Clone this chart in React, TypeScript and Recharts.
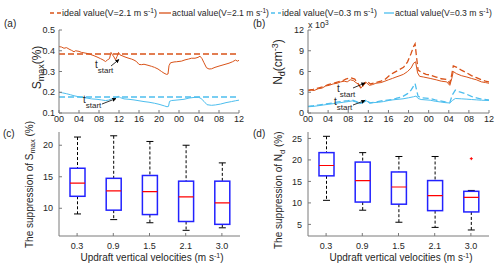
import React from 'react';
import { LineChart, Line, XAxis, YAxis, ComposedChart, Bar } from 'recharts';

const FONT = '"Liberation Sans", Arial, Helvetica, sans-serif';
const RED = '#D95319';
const BLUE = '#4DBEEE';
const AXIS = '#7a7a7a';
const TXT = '#262626';

// ---- time axis (hours since 00:00 of day 1, 36 h shown) ----
const hourTicks = [0, 4, 8, 12, 16, 20, 24, 28, 32, 36];
const hourLabels = ['00', '04', '08', '12', '16', '20', '00', '04', '08', '12'];

// ---- panel (a): S_max (%) ----
const aTicks = [0.1, 0.2, 0.3, 0.4, 0.5];
const aIdealRed = 0.384;
const aIdealBlue = 0.177;
const aRedActual: [number, number][] = [
  [0, 0.42], [0.5, 0.418], [1, 0.412], [1.5, 0.415], [2, 0.408], [2.5, 0.402], [3, 0.395], [3.3, 0.4],
  [4, 0.397], [4.5, 0.392], [5, 0.39], [5.6, 0.387], [6.2, 0.383], [7, 0.376], [7.6, 0.37], [8.3, 0.362],
  [8.8, 0.356], [9.3, 0.348], [9.7, 0.356], [10.1, 0.362], [10.4, 0.392], [10.7, 0.38], [11, 0.37],
  [11.3, 0.356], [11.6, 0.372], [11.9, 0.392], [12.2, 0.38], [12.6, 0.376], [13.2, 0.37], [13.8, 0.365],
  [14.5, 0.36], [15, 0.355], [15.5, 0.348], [16, 0.334], [16.5, 0.333], [17, 0.335], [17.8, 0.33],
  [18.5, 0.325], [19.1, 0.32], [19.8, 0.312], [20.5, 0.3], [21, 0.292], [21.5, 0.286], [21.8, 0.288],
  [22.0, 0.328], [22.3, 0.342], [23, 0.346], [23.5, 0.347], [24.5, 0.35], [25.2, 0.356], [25.9, 0.36],
  [26.5, 0.364], [27.2, 0.364], [27.8, 0.368], [28.2, 0.374], [28.6, 0.362], [29.0, 0.342], [29.5, 0.318],
  [30.0, 0.312], [30.5, 0.313], [31.2, 0.32], [32, 0.326], [33, 0.333], [34, 0.34], [34.7, 0.347],
  [35.3, 0.355], [35.7, 0.35], [36, 0.354],
];
const aBlueActual: [number, number][] = [
  [0, 0.2], [0.7, 0.197], [1.5, 0.193], [2.3, 0.188], [3, 0.183], [3.6, 0.18], [4.4, 0.176], [5, 0.174],
  [5.8, 0.171], [6.5, 0.168], [7.6, 0.166], [8.5, 0.163], [9.3, 0.16], [9.9, 0.162], [10.5, 0.168],
  [11, 0.172], [11.5, 0.175], [11.9, 0.18], [12.3, 0.174], [13, 0.168], [14, 0.166], [15, 0.163],
  [16, 0.159], [17, 0.155], [18, 0.152], [19.1, 0.147], [20, 0.142], [21.1, 0.134], [21.6, 0.13],
  [21.9, 0.132], [22.1, 0.156], [22.5, 0.16], [23.8, 0.163], [25, 0.166], [26, 0.172], [27, 0.175],
  [27.9, 0.176], [28.4, 0.17], [29, 0.156], [29.6, 0.14], [30.5, 0.137], [31.3, 0.139], [32.3, 0.143],
  [33.4, 0.15], [34.5, 0.155], [35.3, 0.159], [36, 0.162],
];

// ---- panel (b): N_d (cm^-3) ----
const bTicks = [0, 3000, 6000, 9000, 12000];
const bRedActual: [number, number][] = [
  [0, 3200], [0.6, 3300], [1.2, 3250], [2, 3500], [2.8, 3600], [3.5, 3900], [4.2, 4000], [5, 4200],
  [5.8, 4300], [6.5, 4500], [7.2, 4600], [7.8, 4500], [8.4, 4800], [9, 4700], [9.5, 4400], [10, 4200],
  [10.5, 3600], [11, 4000], [11.6, 4400], [12.2, 4000], [12.8, 4100], [13.5, 4300], [14.5, 4400],
  [15.3, 4600], [16, 4800], [16.8, 5000], [17.5, 5200], [18.3, 5400], [19, 5600], [19.8, 6000],
  [20.5, 6500], [21.0, 7200], [21.4, 7400], [21.8, 5800], [22.2, 5300], [23, 5200], [24.3, 5000],
  [25.5, 4800], [26.5, 4600], [27.6, 4500], [28.2, 4000], [28.6, 5000], [28.9, 6000], [29.5, 5700],
  [30.5, 5400], [31.6, 5200], [32.5, 5000], [33.5, 4800], [34.5, 4500], [35.3, 4400], [36, 4300],
];
const bRedIdeal: [number, number][] = [
  [0, 3300], [1, 3400], [2, 3600], [3, 3800], [4, 4100], [5, 4300], [6, 4500], [7, 4700], [7.5, 4900],
  [8.5, 5100], [9.3, 4900], [10, 4200], [10.6, 3500], [11.2, 4300], [11.7, 4600], [12.4, 4200],
  [13.5, 4400], [14.5, 4600], [15.3, 4850], [16.3, 5500], [17, 5800], [18, 6200], [19, 6600],
  [19.8, 7400], [20.5, 8600], [21.0, 9600], [21.3, 10000], [21.6, 8000], [21.9, 6200], [22.5, 5900],
  [23.5, 5600], [24.3, 5500], [25.5, 5200], [26.5, 4950], [27.6, 4850], [28.2, 4300], [28.6, 5600],
  [28.9, 6800], [29.6, 6600], [30.5, 6200], [31.6, 5800], [32.5, 5400], [33.5, 5100], [34.5, 4800],
  [35.3, 4600], [36, 4500],
];
const bBlueActual: [number, number][] = [
  [0, 900], [1, 950], [2, 1050], [3, 1150], [4, 1250], [5, 1350], [6, 1450], [7, 1550], [8, 1650],
  [8.8, 1750], [9.5, 1600], [10.3, 1350], [11, 1500], [11.6, 1750], [12.3, 1450], [13, 1500],
  [14, 1550], [15, 1650], [16.3, 1850], [17.5, 1950], [18.9, 2050], [20, 2200], [21, 2350],
  [21.5, 2450], [21.9, 2100], [22.5, 1950], [24.3, 1850], [25.3, 1700], [26.3, 1600], [27.3, 1500],
  [28.2, 1450], [28.7, 1800], [29.3, 2100], [30.5, 2050], [31.6, 2000], [32.5, 1950], [33.5, 1900],
  [34.5, 1850], [36, 1800],
];
const bBlueIdeal: [number, number][] = [
  [0, 970], [1, 1050], [2, 1150], [3, 1250], [4, 1360], [5, 1450], [6, 1600], [7, 1700], [8, 1800],
  [8.7, 1900], [9.5, 1700], [10.3, 1400], [11, 1600], [11.6, 1900], [12.3, 1450], [13.5, 1600],
  [15, 1800], [16.6, 1950], [17.5, 2100], [18.9, 2400], [19.8, 2800], [20.5, 3300], [21.0, 3900],
  [21.3, 4250], [21.6, 3300], [21.9, 2400], [22.5, 2200], [24.3, 2100], [25.3, 1900], [26.3, 1750],
  [27.3, 1600], [28.2, 1500], [28.7, 2600], [29.3, 3300], [30, 3100], [31.6, 2700], [32.5, 2400],
  [33.5, 2200], [34.5, 2000], [36, 1900],
];

// ---- panels (c) & (d): box plots ----
const velocities = ['0.3', '0.9', '1.5', '2.1', '3.0'];
const cTicks = [10, 15, 20];
const cWhiskLow = [9.1, 8.2, 7.7, 6.5, 6.9];
const cQ1 = [11.9, 9.7, 9.0, 7.9, 7.45];
const cMed = [14.0, 12.75, 12.65, 11.8, 10.85];
const cQ3 = [16.35, 14.75, 15.2, 14.3, 14.3];
const cWhiskHigh = [21.3, 21.5, 20.6, 20.0, 17.2];
const dTicks = [5, 10, 15, 20, 25];
const dWhiskLow = [10.6, 8.3, 5.5, 4.3, 3.7];
const dQ1 = [16.3, 10.2, 9.7, 8.2, 7.9];
const dMed = [18.7, 15.2, 13.7, 11.7, 11.3];
const dQ3 = [21.7, 19.5, 17.2, 15.2, 12.7];
const dWhiskHigh = [25.5, 21.7, 20.8, 20.8, 12.9];
const dOutlier: (number | null)[] = [null, null, null, null, 20.3];

// ---------------------------------------------------------------
const W = 500;
const H = 268;
const YW = 40;
const XH = 20;
const margins = (x0: number, x1: number, y0: number, y1: number) => ({
  left: x0 - YW,
  right: W - x1,
  top: y0,
  bottom: H - y1 - XH,
});
const abs: React.CSSProperties = { position: 'absolute', left: 0, top: 0 };
const tickStyle = { fontSize: 9, fill: TXT, fontFamily: FONT };
const toPts = (arr: [number, number][]) => arr.map(([t, v]) => ({ t, v }));
const flat = (v: number) => [{ t: 0, v }, { t: 36, v }];
const fmtHour = (v: number) => hourLabels[hourTicks.indexOf(v)] ?? '';
const blank = () => '';

const buildBox = (lo: number[], q1: number[], med: number[], q3: number[], hi: number[], out?: (number | null)[]) =>
  velocities.map((v, i) => ({
    v,
    range: [lo[i], hi[i]],
    lo: lo[i],
    q1: q1[i],
    med: med[i],
    q3: q3[i],
    hi: hi[i],
    out: out ? out[i] : null,
  }));

const cData = buildBox(cWhiskLow, cQ1, cMed, cQ3, cWhiskHigh);
const dData = buildBox(dWhiskLow, dQ1, dMed, dQ3, dWhiskHigh, dOutlier);

const BoxShape = (props: any) => {
  const { x, y, width, height, payload } = props;
  if (!payload) return null;
  const top = Math.min(y, y + height);
  const h = Math.abs(height);
  const { lo, hi } = payload;
  const py = (val: number) => top + ((hi - val) / (hi - lo)) * h;
  const cx = x + width / 2;
  const cap = 3.5;
  return (
    <g>
      <line x1={cx} x2={cx} y1={py(hi)} y2={py(payload.q3)} stroke="#000" strokeWidth={1} strokeDasharray="3 2" />
      <line x1={cx} x2={cx} y1={py(payload.q1)} y2={py(lo)} stroke="#000" strokeWidth={1} strokeDasharray="3 2" />
      <line x1={cx - cap} x2={cx + cap} y1={py(hi)} y2={py(hi)} stroke="#000" strokeWidth={1} />
      <line x1={cx - cap} x2={cx + cap} y1={py(lo)} y2={py(lo)} stroke="#000" strokeWidth={1} />
      <rect x={x} y={py(payload.q3)} width={width} height={py(payload.q1) - py(payload.q3)} fill="none" stroke="#2222ff" strokeWidth={1.5} />
      <line x1={x} x2={x + width} y1={py(payload.med)} y2={py(payload.med)} stroke="#ff0000" strokeWidth={1.2} />
      {payload.out != null && (
        <g stroke="#ff0000" strokeWidth={1}>
          <line x1={cx - 1.5} x2={cx + 1.5} y1={py(payload.out)} y2={py(payload.out)} />
          <line x1={cx} x2={cx} y1={py(payload.out) - 1.5} y2={py(payload.out) + 1.5} />
        </g>
      )}
    </g>
  );
};

const timeAxes = (domainY: number[], ticksY: number[], fmtY: (v: number) => string) => [
  <XAxis key="xb" dataKey="t" type="number" domain={[0, 36]} ticks={hourTicks} tickFormatter={fmtHour}
    tickSize={-3} tickMargin={6} stroke={AXIS} tick={tickStyle} height={XH} interval={0} allowDataOverflow />,
  <XAxis key="xt" xAxisId="top" orientation="top" dataKey="t" type="number" domain={[0, 36]} ticks={hourTicks}
    tickFormatter={blank} tickSize={-3} stroke={AXIS} height={0} interval={0} />,
  <YAxis key="yl" type="number" domain={domainY} ticks={ticksY} tickFormatter={fmtY} tickSize={-3} tickMargin={7}
    width={YW} stroke={AXIS} tick={tickStyle} interval={0} allowDataOverflow />,
  <YAxis key="yr" yAxisId="right" orientation="right" type="number" domain={domainY} ticks={ticksY}
    tickFormatter={blank} tickSize={-3} width={0} stroke={AXIS} interval={0} allowDataOverflow />,
];

const boxAxes = (domainY: number[], ticksY: number[]) => [
  <XAxis key="xb" dataKey="v" type="category" tickSize={-3} tickMargin={10} stroke={AXIS} tick={tickStyle}
    height={XH} interval={0} />,
  <XAxis key="xt" xAxisId="top" orientation="top" dataKey="v" type="category" tickLine={false} tickFormatter={blank}
    stroke={AXIS} height={0} />,
  <YAxis key="yl" type="number" domain={domainY} ticks={ticksY} tickSize={-3} tickMargin={9} width={YW}
    stroke={AXIS} tick={tickStyle} interval={0} allowDataOverflow />,
  <YAxis key="yr" yAxisId="right" orientation="right" type="number" domain={domainY} ticks={ticksY}
    tickFormatter={blank} tickSize={-3} width={0} stroke={AXIS} interval={0} allowDataOverflow />,
];

// legend entry: sample line + "label(V=… m s^-1)"
const LegendEntry = ({ x0, x1, tx, len, color, dashed, label }: any) => (
  <g>
    <line x1={x0} x2={x1} y1={13} y2={13} stroke={color} strokeWidth={1.3} strokeDasharray={dashed ? '4 3' : undefined} />
    <text x={tx} y={16.2} textLength={len} lengthAdjust="spacingAndGlyphs">
      {label}
      <tspan dy={-3.5} fontSize={6.5}>-1</tspan>
      <tspan dy={3.5}>)</tspan>
    </text>
  </g>
);

export default function App() {
  const textProps = { fontFamily: FONT, fill: TXT };
  return (
    <div style={{ position: 'fixed', left: 0, top: 0, width: W, height: H, background: '#fff', overflow: 'hidden' }}>
      {/* (a) */}
      <LineChart width={W} height={H} margin={margins(59, 239, 30, 113)} style={abs}>
        {timeAxes([0.1, 0.5], aTicks, (v) => v.toFixed(1))}
        <Line data={flat(aIdealRed)} dataKey="v" stroke={RED} strokeWidth={1.5} strokeDasharray="6 3" dot={false} isAnimationActive={false} />
        <Line data={toPts(aRedActual)} dataKey="v" stroke={RED} strokeWidth={1} dot={false} isAnimationActive={false} />
        <Line data={flat(aIdealBlue)} dataKey="v" stroke={BLUE} strokeWidth={1.5} strokeDasharray="6 3" dot={false} isAnimationActive={false} />
        <Line data={toPts(aBlueActual)} dataKey="v" stroke={BLUE} strokeWidth={1} dot={false} isAnimationActive={false} />
      </LineChart>

      {/* (b) */}
      <LineChart width={W} height={H} margin={margins(308, 489, 30, 113)} style={abs}>
        {timeAxes([0, 12000], bTicks, (v) => String(v / 1000))}
        <Line data={toPts(bRedActual)} dataKey="v" stroke={RED} strokeWidth={1} dot={false} isAnimationActive={false} />
        <Line data={toPts(bRedIdeal)} dataKey="v" stroke={RED} strokeWidth={1.3} strokeDasharray="6 3" dot={false} isAnimationActive={false} />
        <Line data={toPts(bBlueActual)} dataKey="v" stroke={BLUE} strokeWidth={1} dot={false} isAnimationActive={false} />
        <Line data={toPts(bBlueIdeal)} dataKey="v" stroke={BLUE} strokeWidth={1.3} strokeDasharray="6 3" dot={false} isAnimationActive={false} />
      </LineChart>

      {/* (c) */}
      <ComposedChart width={W} height={H} data={cData} margin={margins(59, 240, 132, 236)} style={abs}>
        {boxAxes([5.6, 22.1], cTicks)}
        <Bar dataKey="range" barSize={15} shape={<BoxShape />} isAnimationActive={false} />
      </ComposedChart>

      {/* (d) */}
      <ComposedChart width={W} height={H} data={dData} margin={margins(308, 489, 132, 236)} style={abs}>
        {boxAxes([2.3, 26.5], dTicks)}
        <Bar dataKey="range" barSize={15} shape={<BoxShape />} isAnimationActive={false} />
      </ComposedChart>

      {/* overlay texts */}
      <svg width={W} height={H} style={{ ...abs, pointerEvents: 'none' }}>
        <defs>
          <marker id="arr" viewBox="0 0 10 10" refX="9" refY="5" markerWidth="5" markerHeight="5" orient="auto">
            <path d="M0,0 L10,5 L0,10 z" fill="#000" />
          </marker>
          <clipPath id="clipD">
            <rect x={250} y={129} width={60} height={140} />
          </clipPath>
        </defs>

        {/* legend */}
        <g {...textProps} fontSize={8.6}>
          <LegendEntry x0={50} x1={61} tx={62} len={95} color={RED} dashed label="ideal value(V=2.1 m s" />
          <LegendEntry x0={159} x1={171} tx={172} len={97} color={RED} label="actual value(V=2.1 m s" />
          <LegendEntry x0={271} x1={281} tx={282} len={95} color={BLUE} dashed label="ideal value(V=0.3 m s" />
          <LegendEntry x0={384} x1={394} tx={395} len={97} color={BLUE} label="actual value(V=0.3 m s" />
        </g>

        {/* panel letters */}
        <g {...textProps} fontSize={10}>
          <text x={4} y={26.5}>(a)</text>
          <text x={253} y={26.5}>(b)</text>
          <text x={3} y={136.5}>(c)</text>
          <text x={253} y={136.5}>(d)</text>
        </g>

        {/* x 10^3 */}
        <text x={308} y={28} {...textProps} fontSize={9}>x 10<tspan dy={-3.5} fontSize={6.5}>3</tspan></text>

        {/* y labels */}
        <text transform="translate(41,67.5) rotate(-90)" textAnchor="middle" {...textProps} fontSize={12}>
          S<tspan dy={3} fontSize={9}>max</tspan><tspan dy={-3}>(%)</tspan>
        </text>
        <text transform="translate(282,62) rotate(-90)" textAnchor="middle" {...textProps} fontSize={12}>
          N<tspan dy={3} fontSize={9}>d</tspan><tspan dy={-3}>(cm</tspan><tspan dy={-4} fontSize={9}>-3</tspan><tspan dy={4}>)</tspan>
        </text>
        <text transform="translate(32.5,248) rotate(-90)" {...textProps} fontSize={10}>
          The suppression of S<tspan dy={2.5} fontSize={7.5}>max</tspan><tspan dy={-2.5}> (%)</tspan>
        </text>
        <g clipPath="url(#clipD)">
          <text transform="translate(282,249) rotate(-90)" {...textProps} fontSize={10}>
            The suppression of N<tspan dy={2.5} fontSize={7.5}>d</tspan><tspan dy={-2.5}> (%)</tspan>
          </text>
        </g>

        {/* x labels */}
        <text x={152} y={261} textAnchor="middle" {...textProps} fontSize={10}>
          Updraft vertical velocities (m s<tspan dy={-3.5} fontSize={7}>-1</tspan><tspan dy={3.5}>)</tspan>
        </text>
        <text x={401} y={261} textAnchor="middle" {...textProps} fontSize={10}>
          Updraft vertical velocities (m s<tspan dy={-3.5} fontSize={7}>-1</tspan><tspan dy={3.5}>)</tspan>
        </text>

        {/* t_start annotations */}
        <g {...textProps}>
          <text x={95} y={68} fontSize={10}>t<tspan dy={5} fontSize={8}>start</tspan></text>
          <line x1={111} y1={66} x2={119} y2={59.5} stroke="#000" strokeWidth={0.8} markerEnd="url(#arr)" />
          <text x={83} y={103} fontSize={10}>t<tspan dy={5} fontSize={8}>start</tspan></text>
          <line x1={102} y1={104} x2={116} y2={98.5} stroke="#000" strokeWidth={0.8} markerEnd="url(#arr)" />
          <text x={337} y={92} fontSize={10}>t<tspan dy={5} fontSize={8}>start</tspan></text>
          <line x1={353} y1={88} x2={365} y2={83} stroke="#000" strokeWidth={0.8} markerEnd="url(#arr)" />
          <text x={334} y={105} fontSize={10}>t<tspan dy={5} fontSize={8}>start</tspan></text>
          <line x1={353} y1={105} x2={365} y2={100.5} stroke="#000" strokeWidth={0.8} markerEnd="url(#arr)" />
        </g>
      </svg>
    </div>
  );
}
